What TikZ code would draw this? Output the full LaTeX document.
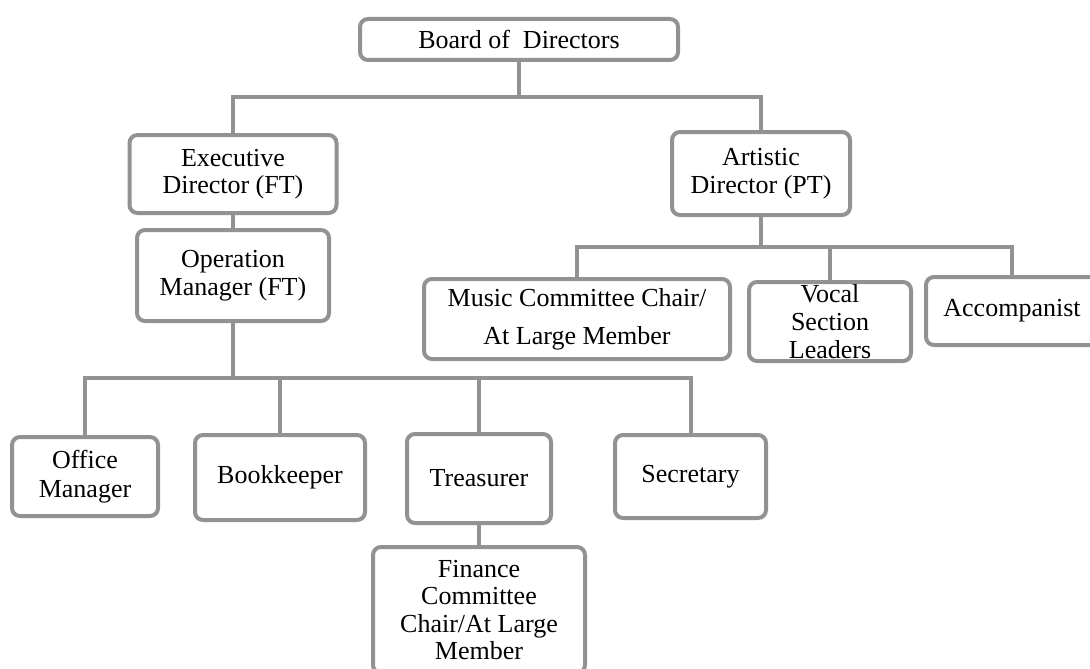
\documentclass[tikz,border=0pt]{standalone}
\usepackage{fontspec}
\setmainfont{Liberation Serif}
\definecolor{lc}{RGB}{146,146,146}
\begin{document}
\begin{tikzpicture}[x=1pt,y=-1pt,
  box/.style={draw=lc,line width=4pt,rounded corners=8pt,fill=white,inner sep=0pt,align=center,
    font=\fontsize{26}{27.5}\selectfont,text=black},
  conn/.style={draw=lc,line width=4pt,line cap=rect,line join=miter}]
\useasboundingbox (0,0) rectangle (1090,669);
\clip (0,0) rectangle (1090,669);
\fill[white] (0,0) rectangle (1090,669);
% nodes
\node[box,minimum width=318pt,minimum height=41pt] (board) at (519,39.5) {Board of\ \ Directors};
\node[box,minimum width=207pt,minimum height=78pt] (exec) at (233,174) {Executive\\Director (FT)};
\node[box,minimum width=178pt,minimum height=83pt] (art) at (761,173.5) {Artistic\\Director (PT)};
\node[box,minimum width=192pt,minimum height=91pt] (op) at (233,275.5) {Operation\\Manager (FT)};
\node[box,minimum width=306pt,minimum height=80pt,font=\fontsize{26}{38}\selectfont] (music) at (577,319) {Music Committee Chair/\\At Large Member};
\node[box,minimum width=162pt,minimum height=79pt,font=\fontsize{26}{28}\selectfont] (vocal) at (830,321.5) {Vocal\\Section\\Leaders};
\node[box,minimum width=172pt,minimum height=68pt] (accomp) at (1012,311) {Accompanist};
\node[box,minimum width=146pt,minimum height=79pt,font=\fontsize{26}{29}\selectfont] (office) at (85,476.5) {Office\\Manager};
\node[box,minimum width=170pt,minimum height=85pt] (book) at (280,477.5) {Bookkeeper};
\node[box,minimum width=144pt,minimum height=89pt] (treas) at (479,478.5) {Treasurer};
\node[box,minimum width=151pt,minimum height=83pt] (sec) at (690.5,476.5) {Secretary};
\node[box,minimum width=212pt,minimum height=126pt] (fin) at (479,610) {Finance\\Committee\\Chair/At Large\\Member};
% junctions
\coordinate (j1) at (519,97);
\coordinate (j2) at (761,247);
\coordinate (j3) at (233,378);
% connectors
\draw[conn] (board.south) -- (j1);
\draw[conn] (exec.north) |- (j1) -| (art.north);
\draw[conn] (exec.south) -- (op.north);
\draw[conn] (art.south) -- (j2);
\draw[conn] (music.north) |- (j2) -| (accomp.north);
\draw[conn] (vocal.north) -- (vocal.north |- j2);
\draw[conn] (op.south) -- (j3);
\draw[conn] (office.north) |- (j3) -| (sec.north);
\draw[conn] (book.north) -- (book.north |- j3);
\draw[conn] (treas.north) -- (treas.north |- j3);
\draw[conn] (treas.south) -- (fin.north);
\end{tikzpicture}
\end{document}
